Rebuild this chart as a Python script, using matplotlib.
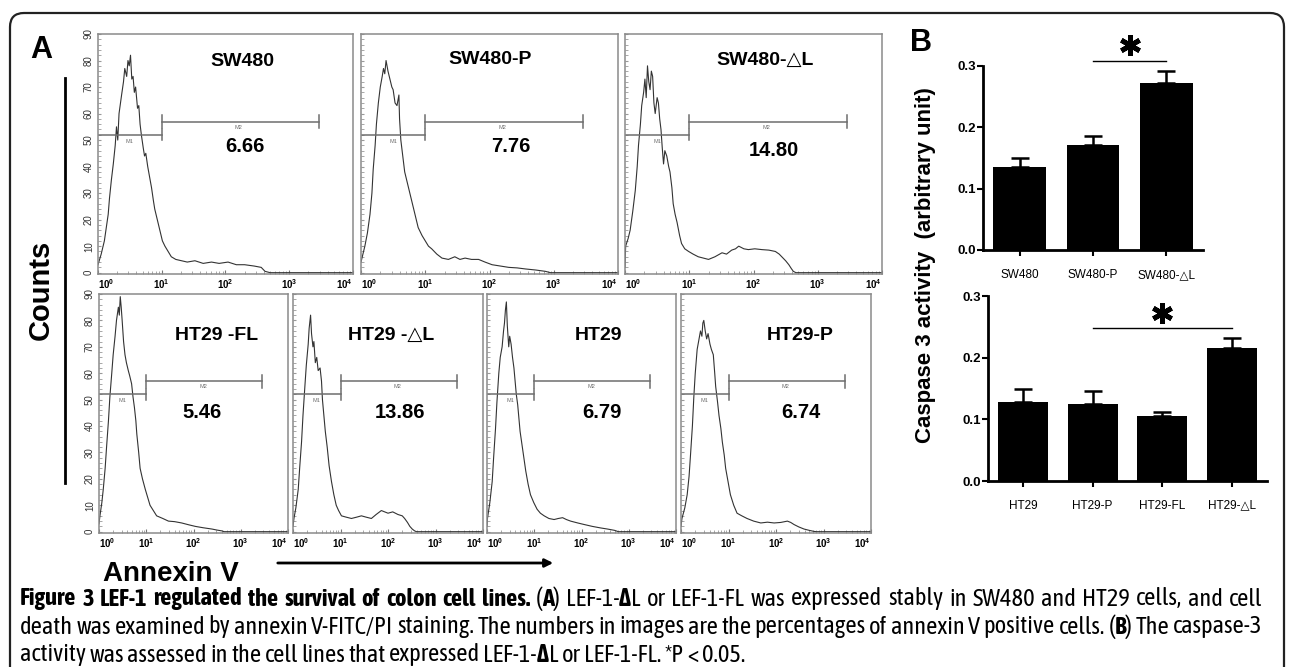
import numpy as np
import matplotlib
matplotlib.use("Agg")
import matplotlib.pyplot as plt
from matplotlib.patches import FancyBboxPatch, FancyArrowPatch
from matplotlib.transforms import IdentityTransform
from matplotlib.font_manager import FontProperties, fontManager

W, H = 1290, 667
plt.rcParams['font.family'] = ['Liberation Sans', 'DejaVu Sans']
plt.rcParams['mathtext.fontset'] = 'custom'
plt.rcParams['mathtext.rm'] = 'Liberation Sans'
plt.rcParams['mathtext.bf'] = 'Liberation Sans:bold'

# ---- panel A: annexin V histograms, (log10 intensity, counts)
sw480 = [(0.00, 3), (0.05, 7), (0.10, 12), (0.13, 17), (0.16, 22), (0.18, 28), (0.21, 35),
         (0.24, 41), (0.27, 48), (0.29, 55), (0.31, 50), (0.33, 60), (0.37, 67), (0.40, 72),
         (0.42, 77), (0.45, 74), (0.47, 80), (0.49, 78), (0.51, 82), (0.53, 73), (0.55, 74),
         (0.57, 68), (0.59, 70), (0.62, 62), (0.64, 63), (0.66, 56), (0.68, 52), (0.71, 47),
         (0.73, 44), (0.75, 45), (0.78, 40), (0.81, 36), (0.84, 32), (0.87, 27), (0.89, 24),
         (0.93, 20), (0.97, 16), (1.01, 12), (1.05, 10), (1.10, 8), (1.15, 6), (1.22, 5),
         (1.31, 4.5), (1.40, 4), (1.52, 4.5), (1.65, 3.5), (1.78, 4), (1.90, 3.5), (2.04, 4),
         (2.17, 3), (2.30, 3), (2.45, 2.5), (2.56, 2), (2.62, 0.5), (2.70, 0), (4.00, 0)]
sw480_p = [(0.00, 4), (0.06, 10), (0.10, 15), (0.14, 22), (0.17, 30), (0.19, 39), (0.22, 48),
           (0.24, 56), (0.27, 64), (0.30, 70), (0.33, 74), (0.35, 77), (0.37, 75), (0.39, 80),
           (0.42, 76), (0.45, 73), (0.48, 70), (0.50, 69), (0.53, 64), (0.56, 63), (0.59, 67),
           (0.60, 58), (0.62, 50), (0.65, 44), (0.68, 38), (0.71, 35), (0.74, 32), (0.78, 28),
           (0.82, 24), (0.86, 20), (0.89, 17), (0.95, 14), (1.00, 12), (1.05, 10), (1.10, 9),
           (1.18, 7), (1.26, 5.5), (1.36, 5), (1.46, 6), (1.54, 5), (1.62, 5.5), (1.72, 5),
           (1.83, 5), (1.93, 4), (2.04, 3), (2.17, 2.5), (2.30, 2), (2.43, 1.8), (2.56, 1.4),
           (2.72, 1), (2.87, 0.5), (2.95, 0), (4.00, 0)]
sw480_dl = [(0.00, 2), (0.01, 10), (0.05, 13), (0.08, 16), (0.12, 23), (0.16, 31), (0.19, 40),
            (0.21, 48), (0.24, 56), (0.26, 63), (0.29, 68), (0.31, 73), (0.33, 66), (0.35, 78),
            (0.37, 72), (0.39, 69), (0.41, 76), (0.43, 74), (0.45, 64), (0.47, 60), (0.50, 66),
            (0.52, 64), (0.54, 58), (0.56, 54), (0.58, 47), (0.60, 41), (0.62, 46), (0.65, 44),
            (0.68, 40), (0.70, 38), (0.73, 32), (0.75, 26), (0.78, 22), (0.81, 19), (0.85, 14),
            (0.88, 11), (0.93, 9), (0.99, 8), (1.06, 7), (1.14, 6), (1.22, 5.5), (1.30, 5),
            (1.40, 6), (1.51, 7.5), (1.58, 7), (1.66, 8.5), (1.72, 9), (1.77, 10), (1.85, 9),
            (1.92, 8.7), (2.02, 9), (2.13, 8.7), (2.24, 8.5), (2.34, 8), (2.40, 7), (2.44, 6),
            (2.50, 4.5), (2.55, 3), (2.59, 1.5), (2.62, 0.5), (2.66, 0), (4.00, 0)]
ht29_fl = [(0.00, 3), (0.02, 6), (0.06, 11), (0.09, 16), (0.13, 24), (0.16, 32), (0.20, 42),
           (0.23, 51), (0.27, 60), (0.30, 67), (0.34, 74), (0.37, 80), (0.41, 85), (0.43, 82),
           (0.45, 89), (0.47, 85), (0.49, 80), (0.52, 72), (0.55, 67), (0.58, 64), (0.62, 61),
           (0.65, 59), (0.69, 56), (0.72, 51), (0.75, 47), (0.78, 42), (0.80, 37), (0.84, 30),
           (0.87, 24), (0.92, 20), (0.98, 16), (1.03, 13), (1.08, 10), (1.15, 8), (1.22, 6),
           (1.35, 5), (1.47, 4), (1.60, 3.8), (1.75, 3.3), (1.90, 2.6), (2.04, 2), (2.20, 1.5),
           (2.39, 1), (2.50, 0.6), (2.60, 0.3), (2.65, 0), (4.00, 0)]
ht29_dl = [(0.00, 2), (0.02, 5), (0.06, 9), (0.11, 16), (0.14, 24), (0.18, 34), (0.21, 44),
           (0.25, 55), (0.28, 63), (0.32, 71), (0.34, 77), (0.37, 82), (0.39, 75), (0.42, 70),
           (0.44, 72), (0.47, 64), (0.50, 66), (0.53, 61), (0.57, 62), (0.60, 57), (0.62, 50),
           (0.65, 44), (0.68, 38), (0.72, 32), (0.76, 25), (0.81, 19), (0.86, 14), (0.91, 10),
           (0.96, 8), (1.02, 6), (1.12, 5.5), (1.23, 5), (1.34, 5.5), (1.44, 6), (1.54, 5.5),
           (1.65, 5), (1.75, 6.5), (1.86, 8), (1.93, 7.5), (2.00, 7), (2.10, 7.5), (2.21, 6.5),
           (2.30, 6), (2.35, 5), (2.41, 3.5), (2.46, 2), (2.51, 1), (2.56, 0.3), (2.60, 0), (4.00, 0)]
ht29 = [(0.00, 2), (0.01, 5), (0.06, 11), (0.11, 19), (0.14, 28), (0.18, 39), (0.21, 49),
        (0.25, 60), (0.28, 66), (0.32, 70), (0.35, 76), (0.37, 79), (0.39, 84), (0.41, 87),
        (0.43, 78), (0.46, 70), (0.48, 74), (0.51, 71), (0.54, 66), (0.57, 62), (0.60, 56),
        (0.62, 52), (0.65, 48), (0.67, 44), (0.70, 38), (0.74, 33), (0.78, 28), (0.82, 23),
        (0.87, 18), (0.92, 14), (0.99, 11), (1.06, 8.5), (1.13, 7), (1.21, 6), (1.31, 5),
        (1.42, 4.6), (1.51, 5), (1.60, 5.3), (1.68, 4.6), (1.77, 4), (1.92, 3.3), (2.06, 2.7),
        (2.23, 2), (2.41, 1.4), (2.55, 1), (2.70, 0.5), (2.78, 0), (4.00, 0)]
ht29_p = [(0.00, 2), (0.02, 5), (0.08, 9), (0.13, 14), (0.17, 21), (0.20, 29), (0.24, 40),
          (0.27, 51), (0.30, 60), (0.34, 69), (0.37, 72), (0.41, 76), (0.44, 74), (0.46, 79),
          (0.48, 80), (0.51, 76), (0.54, 73), (0.57, 75), (0.61, 71), (0.64, 69), (0.68, 67),
          (0.71, 60), (0.73, 55), (0.77, 49), (0.80, 44), (0.84, 39), (0.87, 34), (0.91, 29),
          (0.94, 24), (0.99, 19), (1.04, 14), (1.11, 10), (1.18, 7), (1.28, 6), (1.39, 5),
          (1.53, 4), (1.68, 3.3), (1.82, 3.6), (1.96, 3.3), (2.10, 3.5), (2.24, 4), (2.31, 3.5),
          (2.38, 2.7), (2.48, 1.8), (2.59, 1), (2.70, 0.5), (2.80, 0.1), (2.85, 0), (4.00, 0)]

top_names = ["SW480", "SW480-P", "SW480-\u25b3L"]
top_pct = ["6.66", "7.76", "14.80"]
bot_names = ["HT29 -FL", "HT29 -\u25b3L", "HT29", "HT29-P"]
bot_pct = ["5.46", "13.86", "6.79", "6.74"]

# ---- panel B: caspase 3 activity
sw_labels = ["SW480", "SW480-P", "SW480-\u25b3L"]
sw_mean = [0.135, 0.172, 0.272]
sw_err = [0.015, 0.014, 0.020]
ht_labels = ["HT29", "HT29-P", "HT29-FL", "HT29-\u25b3L"]
ht_mean = [0.128, 0.125, 0.106, 0.215]
ht_err = [0.021, 0.021, 0.006, 0.017]

fig = plt.figure(figsize=(W / 100, H / 100), dpi=100)
fig.patch.set_facecolor('white')


def fx(x):
    return x / W


def fy(y):
    return 1 - y / H


def px_axes(x0, y0, x1, y1):
    return fig.add_axes([x0 / W, 1 - y1 / H, (x1 - x0) / W, (y1 - y0) / H])


def histo(box, data, name, pct, name_xy, pct_xy, ylabels):
    ax = px_axes(*box)
    arr = np.array(data)
    ax.plot(10 ** arr[:, 0], arr[:, 1], color='#333333', lw=0.8)
    ax.set_xscale('log')
    ax.set_xlim(1, 1e4)
    ax.set_ylim(-0.5, 90)
    for s in ax.spines.values():
        s.set_color('#8a8a8a')
        s.set_linewidth(1.1)
    ax.set_xticks([1, 10, 100, 1000, 10000])
    ax.set_xticklabels([r'$\mathbf{10^{%d}}$' % i for i in range(5)])
    ax.tick_params(axis='x', which='major', direction='in', length=3, color='#777',
                   labelsize=7, pad=2)
    ax.tick_params(axis='x', which='minor', direction='in', length=2, color='#999')
    ax.xaxis.set_minor_formatter(plt.NullFormatter())
    labs = ax.get_xticklabels()
    labs[0].set_horizontalalignment('left')
    labs[-1].set_horizontalalignment('right')
    ax.set_yticks(range(0, 91, 10))
    ax.set_yticks(range(0, 91, 2), minor=True)
    ax.tick_params(axis='y', which='both', direction='in', length=2, color='#999',
                   labelsize=7, pad=3)
    if ylabels:
        ax.set_yticklabels([str(v) for v in range(0, 91, 10)], rotation=90, va='center',
                           color='#333333')
    else:
        ax.set_yticklabels([])
    # marker gates M1 / M2
    gate = '#6e6e6e'
    ax.plot([1, 10], [52, 52], color=gate, lw=1.1)
    ax.plot([10, 10], [50, 54], color=gate, lw=1.1)
    ax.plot([10, 10 ** 3.46], [57, 57], color=gate, lw=1.1)
    for xe in (10, 10 ** 3.46):
        ax.plot([xe, xe], [54.5, 59.5], color=gate, lw=1.1)
    ax.text(10 ** 0.5, 49.5, 'M1', fontsize=4, color=gate, ha='center', va='center')
    ax.text(10 ** 2.2, 54.8, 'M2', fontsize=4, color=gate, ha='center', va='center')
    fig.text(fx(name_xy[0]), fy(name_xy[1]), name, fontsize=14, fontweight='bold',
             ha='center', va='center')
    fig.text(fx(pct_xy[0]), fy(pct_xy[1]), pct, fontsize=14.5, fontweight='bold',
             ha='center', va='center')
    return ax


top_boxes = [(98, 34, 353, 274), (361, 34, 618, 274), (625, 34, 882, 274)]
top_data = [sw480, sw480_p, sw480_dl]
top_name_xy = [(242, 61), (490, 60), (765, 60)]
top_pct_xy = [(245, 147), (511, 147), (774, 150)]
for i in range(3):
    histo(top_boxes[i], top_data[i], top_names[i], top_pct[i], top_name_xy[i], top_pct_xy[i], i == 0)

bot_boxes = [(99, 294, 288, 533), (293, 294, 483, 533), (487, 294, 676, 533), (681, 294, 871, 533)]
bot_data = [ht29_fl, ht29_dl, ht29, ht29_p]
bot_name_xy = [(217, 335), (391, 335), (599, 335), (800, 335)]
bot_pct_xy = [(202, 413), (400, 413), (602, 413), (801, 413)]
for i in range(4):
    histo(bot_boxes[i], bot_data[i], bot_names[i], bot_pct[i], bot_name_xy[i], bot_pct_xy[i], i == 0)

# axis captions of panel A
fig.text(fx(41), fy(290), 'Counts', rotation=90, fontsize=21, fontweight='bold',
         ha='center', va='center')
fig.add_artist(plt.Line2D([fx(65), fx(65)], [fy(78), fy(483)], color='black', lw=2))
fig.text(fx(103), fy(574), 'Annexin V', fontsize=20, fontweight='bold', ha='left', va='center')
fig.add_artist(FancyArrowPatch((fx(275), fy(563)), (fx(556), fy(563)), transform=fig.transFigure,
                               arrowstyle='-|>', mutation_scale=12, color='black', lw=2))
fig.text(fx(41), fy(50), 'A', fontsize=22, fontweight='bold', ha='center', va='center')
fig.text(fx(921), fy(43), 'B', fontsize=22, fontweight='bold', ha='center', va='center')


def bar_panel(box, labels, means, errs, pair, line_y, star_y, label_pad):
    ax = px_axes(*box)
    pos = np.arange(len(labels))
    ax.bar(pos, means, width=0.72, color='black')
    ax.errorbar(pos, means, yerr=[np.zeros(len(pos)), errs], fmt='none', ecolor='black',
                elinewidth=1.8, capsize=6.5, capthick=1.8)
    ax.set_xlim(-0.5, len(pos) - 0.5)
    ax.set_ylim(0, 0.3)
    ax.set_yticks([0, 0.1, 0.2, 0.3])
    ax.set_yticklabels(['0.0', '0.1', '0.2', '0.3'], fontweight='bold')
    ax.set_xticks(pos)
    ax.set_xticklabels(labels)
    ax.spines['top'].set_visible(False)
    ax.spines['right'].set_visible(False)
    ax.spines['left'].set_linewidth(2)
    ax.spines['bottom'].set_linewidth(2)
    ax.tick_params(axis='y', length=4, width=1.5, labelsize=9.5, pad=1)
    ax.tick_params(axis='x', length=4, width=1.5, labelsize=8.5, pad=label_pad)
    a, b = pair
    ax.plot([a, b], [line_y, line_y], color='black', lw=1, clip_on=False)
    ax.plot([(a + b) / 2], [star_y], marker=(6, 2, 0), markersize=15, mew=3.5,
            color='black', clip_on=False)
    return ax


bar_panel((983, 66, 1203, 250), sw_labels, sw_mean, sw_err, (1, 2), 0.308, 0.334, 10)
bar_panel((988, 296, 1267, 481), ht_labels, ht_mean, ht_err, (1, 3), 0.248, 0.273, 9.5)
fig.text(fx(925), fy(265), 'Caspase 3 activity  (arbitrary unit)', rotation=90, fontsize=16,
         fontweight='bold', ha='center', va='center')

# outer rounded frame
frame = FancyBboxPatch((10, -40), 1274, H - 13 + 40, boxstyle='round,pad=0,rounding_size=14',
                       transform=IdentityTransform(), fill=False, ec='#222222', lw=1.6)
fig.add_artist(frame)


# caption in a condensed face if one is installed
def wnum(w):
    if isinstance(w, (int, float)):
        return int(w)
    return {'normal': 400, 'regular': 400, 'book': 400, 'roman': 400,
            'bold': 700}.get(str(w).lower(), 0)


def is_condensed(f):
    if 'Narrow' in f.name or 'Condensed' in f.name:
        return True
    st = f.stretch
    if isinstance(st, (int, float)):
        return st < 100
    return str(st) in ('condensed', 'semi-condensed', 'extra-condensed', 'ultra-condensed')


groups = {}
for f in fontManager.ttflist:
    if f.style != 'normal' or not is_condensed(f):
        continue
    groups.setdefault((f.name, str(f.stretch)), {})[wnum(f.weight)] = f.fname

cap_reg = FontProperties(family='Liberation Sans')
cap_bold = FontProperties(family='Liberation Sans', weight='bold')
for key in sorted(groups, key=lambda k: ('Liberation' not in k[0], 'condensed' != k[1], k[0])):
    g = groups[key]
    if 400 in g and 700 in g:
        cap_reg = FontProperties(fname=g[400])
        cap_bold = FontProperties(fname=g[700])
        break

renderer = fig.canvas.get_renderer()

caption = [
    [("Figure 3 LEF-1 regulated the survival of colon cell lines.", True), (" (", False),
     ("A", True), (") LEF-1-", False), ("\u0394", True),
     ("L or LEF-1-FL was expressed stably in SW480 and HT29 cells, and cell", False)],
    [("death was examined by annexin V-FITC/PI staining. The numbers in images are the "
      "percentages of annexin V positive cells. (", False), ("B", True),
     (") The caspase-3", False)],
    [("activity was assessed in the cell lines that expressed LEF-1-", False), ("\u0394", True),
     ("L or LEF-1-FL. *P < 0.05.", False)],
]
cap_y = [599, 627, 655]
cap_left, cap_right = 20, 1262


def text_w(txt, bold, size):
    fp = (cap_bold if bold else cap_reg).copy()
    fp.set_size(size)
    w1, _, _ = renderer.get_text_width_height_descent('|' + txt + '|', fp, ismath=False)
    w2, _, _ = renderer.get_text_width_height_descent('||', fp, ismath=False)
    return w1 - w2


def tokens(parts):
    out = []
    for txt, bold in parts:
        pieces = txt.split(' ')
        for k, p in enumerate(pieces):
            if p:
                out.append((p, bold, False))
            if k < len(pieces) - 1:
                out.append((' ', bold, True))
    return out


def natural_w(parts, size):
    return sum(text_w(t, b, size) for t, b, _ in tokens(parts))


# size chosen so the longest line fits, then the full lines are justified
cap_size = 12.0
for _ in range(3):
    widest = max(natural_w(p, cap_size) for p in caption)
    cap_size = cap_size * (cap_right - cap_left) / widest

for li, (parts, y) in enumerate(zip(caption, cap_y)):
    toks = tokens(parts)
    nsp = sum(1 for t in toks if t[2])
    extra = 0.0
    if li < len(caption) - 1 and nsp:
        extra = (cap_right - cap_left - natural_w(parts, cap_size)) / nsp
    x = cap_left
    for txt, bold, is_space in toks:
        w = text_w(txt, bold, cap_size)
        if is_space:
            x += w + extra
            continue
        fp = (cap_bold if bold else cap_reg).copy()
        fp.set_size(cap_size)
        fig.text(fx(x), fy(y), txt, fontproperties=fp, ha='left', va='center')
        x += w

fig.savefig('out.png', dpi=100)
